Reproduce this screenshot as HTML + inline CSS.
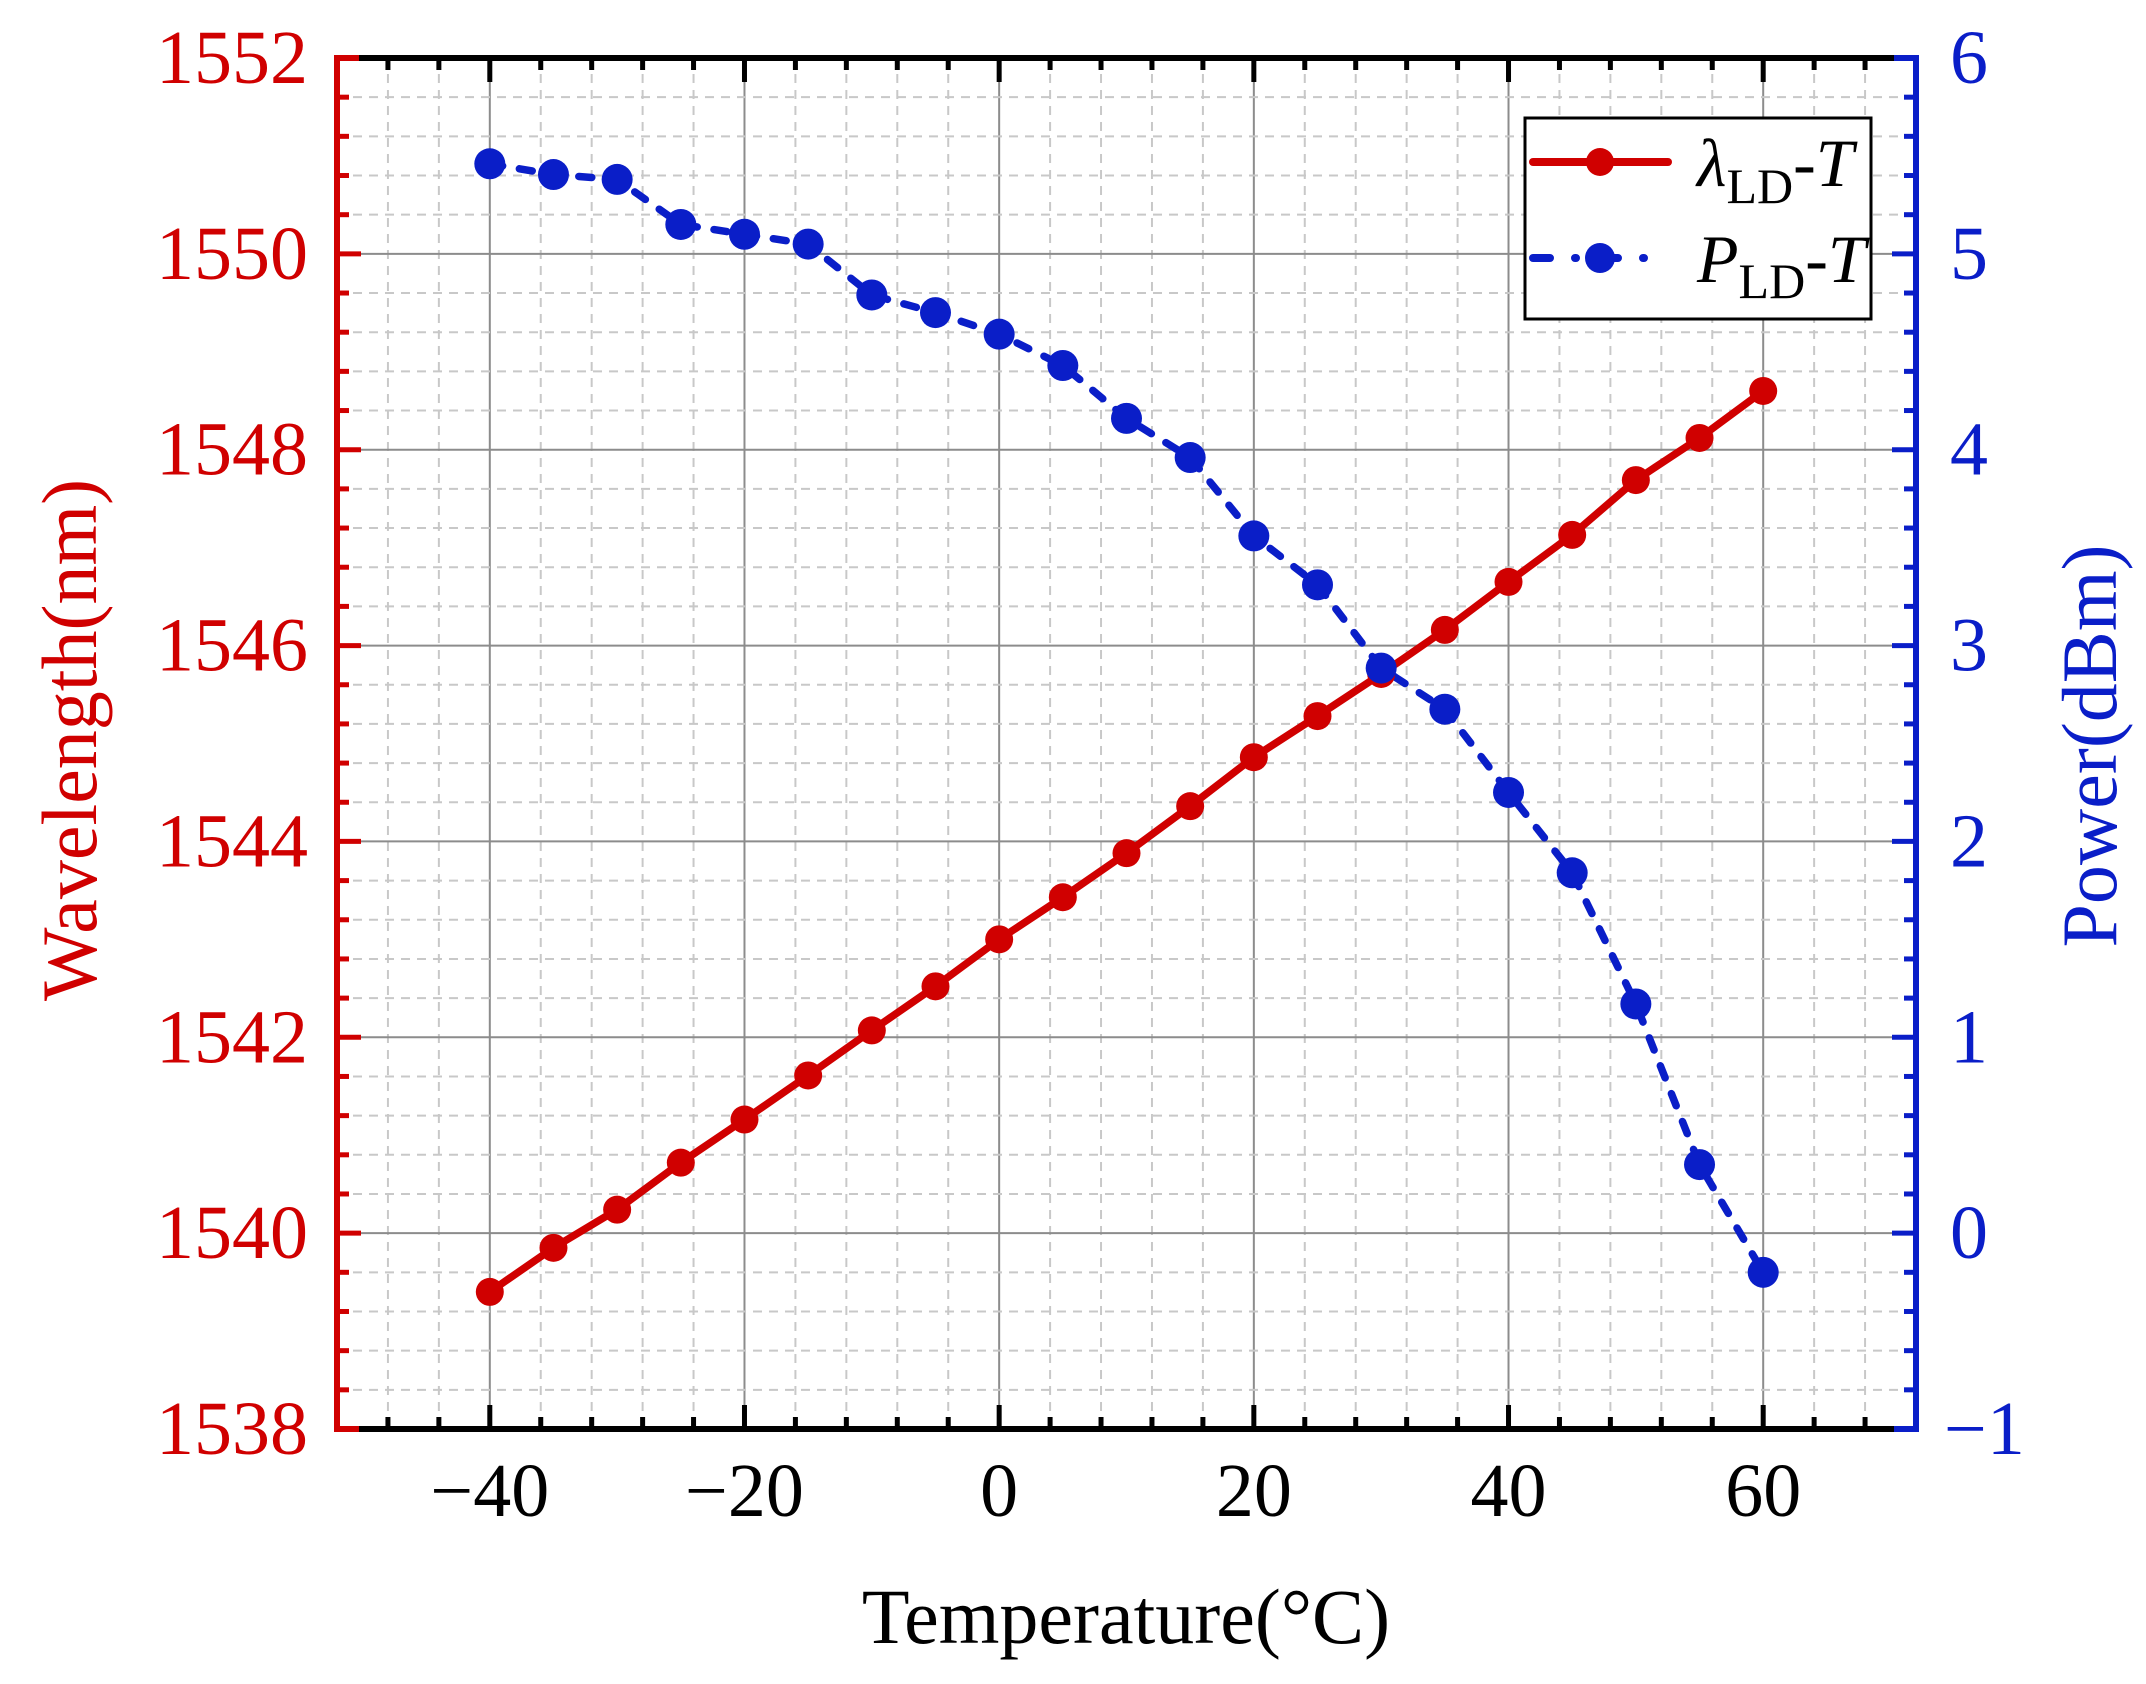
<!DOCTYPE html>
<html><head><meta charset="utf-8"><style>
html,body{margin:0;padding:0;background:#fff;}
svg{display:block;font-family:"Liberation Serif",serif;}
</style></head><body>
<svg id="chart" xmlns="http://www.w3.org/2000/svg" width="2146" height="1684" viewBox="0 0 2146 1684">
<g id="grid"></g>
<g id="series"></g>
<g id="axes"></g>
<g id="legend">
  <rect x="1525" y="118" width="346" height="201" fill="#fff" stroke="#000" stroke-width="3"/>
  <line x1="1533" y1="162" x2="1668" y2="162" stroke="#d00000" stroke-width="8" stroke-linecap="round"/>
  <circle cx="1600" cy="162" r="14" fill="#d00000"/>
  <line x1="1533" y1="258" x2="1668" y2="258" stroke="#0a1ec8" stroke-width="8" stroke-linecap="round" stroke-dasharray="17,25,1,25"/>
  <circle cx="1600" cy="258" r="15" fill="#0a1ec8"/>
  <text x="1697" y="186" font-size="68"><tspan font-style="italic">λ</tspan><tspan font-size="50" dy="17">LD</tspan><tspan dy="-17">-</tspan><tspan font-style="italic">T</tspan></text>
  <text x="1697" y="282" font-size="68"><tspan font-style="italic">P</tspan><tspan font-size="50" dy="16">LD</tspan><tspan dy="-16">-</tspan><tspan font-style="italic">T</tspan></text>
</g>
<text x="1126" y="1643" font-size="78" text-anchor="middle">Temperature(°C)</text>
<text transform="translate(96,740) rotate(-90)" font-size="78" text-anchor="middle" fill="#d00000">Wavelength(nm)</text>
<text transform="translate(2116,746) rotate(-90)" font-size="78" text-anchor="middle" fill="#0a1ec8">Power(dBm)</text>
</svg>
<script>
const temps = [-40,-35,-30,-25,-20,-15,-10,-5,0,5,10,15,20,25,30,35,40,45,50,55,60];
const wavelength = [1539.40,1539.85,1540.24,1540.72,1541.16,1541.61,1542.07,1542.52,1543.00,1543.43,1543.88,1544.36,1544.86,1545.28,1545.71,1546.16,1546.65,1547.13,1547.69,1548.12,1548.60];
const power = [5.46,5.405,5.38,5.15,5.10,5.05,4.79,4.70,4.59,4.43,4.16,3.96,3.56,3.31,2.885,2.675,2.25,1.84,1.17,0.35,-0.20];
const xTicks = [-40,-20,0,20,40,60];
const yLeftTicks = [1538,1540,1542,1544,1546,1548,1550,1552];
const yRightTicks = [-1,0,1,2,3,4,5,6];

const PL=337,PR=1916,PT=58,PB=1429;
const X0=-52,X1=72,YL0=1538,YL1=1552,YR0=-1,YR1=6;
const xs=v=>PL+(v-X0)/(X1-X0)*(PR-PL);
const yl=v=>PB-(v-YL0)/(YL1-YL0)*(PB-PT);
const yr=v=>PB-(v-YR0)/(YR1-YR0)*(PB-PT);
const NS="http://www.w3.org/2000/svg";
function mk(tag,attrs,parent,text){const e=document.createElementNS(NS,tag);for(const k in attrs)e.setAttribute(k,attrs[k]);if(text!==undefined)e.textContent=text;parent.appendChild(e);return e;}
const gridG=document.getElementById('grid'),seriesG=document.getElementById('series'),axesG=document.getElementById('axes');

for(let v=-48;v<72;v+=4){
  const major=xTicks.includes(v);
  const g=mk('line',{x1:xs(v),x2:xs(v),y1:PT,y2:PB,stroke:major?'#8c8c8c':'#c8c8c8','stroke-width':2,'stroke-dasharray':major?'none':'9,7'},gridG);
  
  
}
for(let i=1;i<35;i++){
  const v=YL0+i*0.4;
  const major=i%5===0;
  const g=mk('line',{x1:PL,x2:PR,y1:yl(v),y2:yl(v),stroke:major?'#8c8c8c':'#c8c8c8','stroke-width':2,'stroke-dasharray':major?'none':'9,7'},gridG);
  
  
}

const red='#d00000',blue='#0a1ec8';
const wp=temps.map((t,i)=>xs(t)+','+yl(wavelength[i])).join(' ');
const wl=mk('polyline',{points:wp,fill:'none',stroke:red,'stroke-width':7.5,'stroke-linejoin':'round'},seriesG);


const pp=temps.map((t,i)=>xs(t)+','+yr(power[i])).join(' ');
const pl=mk('polyline',{points:pp,fill:'none',stroke:blue,'stroke-width':7.5,'stroke-dasharray':'13,17','stroke-linecap':'round','stroke-linejoin':'round'},seriesG);


temps.forEach((t,i)=>{
  const c=mk('circle',{cx:xs(t),cy:yl(wavelength[i]),r:14,fill:red},seriesG);
  
  
});
temps.forEach((t,i)=>{
  const c=mk('circle',{cx:xs(t),cy:yr(power[i]),r:15.5,fill:blue},seriesG);
  
  
});

const topAxis=mk('line',{x1:PL,x2:PR,y1:PT,y2:PT,stroke:'#000','stroke-width':6},axesG);


const botAxis=mk('line',{x1:PL,x2:PR,y1:PB,y2:PB,stroke:'#000','stroke-width':6},axesG);


const leftAxis=mk('line',{x1:PL,x2:PL,y1:PT-3,y2:PB+3,stroke:red,'stroke-width':6},axesG);


mk('line',{x1:PL,x2:PL+22,y1:PT,y2:PT,stroke:red,'stroke-width':6},axesG);
mk('line',{x1:PL,x2:PL+22,y1:PB,y2:PB,stroke:red,'stroke-width':6},axesG);
const rightAxis=mk('line',{x1:PR,x2:PR,y1:PT-3,y2:PB+3,stroke:blue,'stroke-width':6},axesG);


mk('line',{x1:PR-22,x2:PR,y1:PT,y2:PT,stroke:blue,'stroke-width':6},axesG);
mk('line',{x1:PR-22,x2:PR,y1:PB,y2:PB,stroke:blue,'stroke-width':6},axesG);

for(let v=-48;v<72;v+=4){
  const major=xTicks.includes(v);const len=major?24:12;
  const a=mk('line',{x1:xs(v),x2:xs(v),y1:PB,y2:PB-len,stroke:'#000','stroke-width':5},axesG);
  
  
  const b=mk('line',{x1:xs(v),x2:xs(v),y1:PT,y2:PT+len,stroke:'#000','stroke-width':5},axesG);
  
  
}
xTicks.forEach(v=>{
  const t=mk('text',{x:xs(v),y:1516,'font-size':76,'text-anchor':'middle'},axesG,v<0?'\u2212'+(-v):String(v));
  
  
});
for(let i=1;i<35;i++){
  const major=i%5===0;const len=major?24:12;
  const y=yl(YL0+i*0.4);
  const a=mk('line',{x1:PL,x2:PL+len,y1:y,y2:y,stroke:red,'stroke-width':5},axesG);
  
  
  const y2=yr(YR0+i*0.2);
  const b=mk('line',{x1:PR,x2:PR-len,y1:y2,y2:y2,stroke:blue,'stroke-width':5},axesG);
  
  
}
yLeftTicks.forEach(v=>{
  const t=mk('text',{x:308,y:yl(v)+25,'font-size':76,'text-anchor':'end',fill:red},axesG,String(v));
  
  
});
yRightTicks.forEach(v=>{
  const t=mk('text',{x:v<0?1944:1950,y:yr(v)+25,'font-size':76,'text-anchor':'start',fill:blue},axesG,v<0?'\u2212'+(-v):String(v));
  
  
});
</script>
</body></html>
